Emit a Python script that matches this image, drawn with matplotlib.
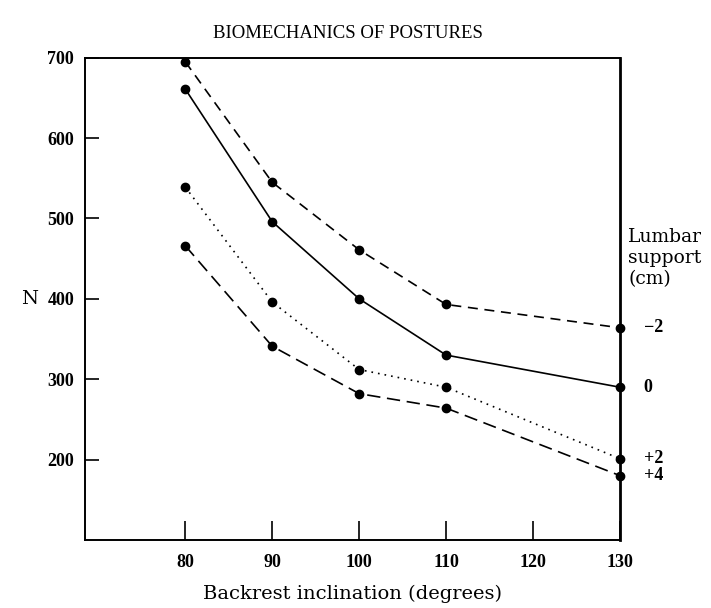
import matplotlib
matplotlib.use("Agg")
import matplotlib.pyplot as plt

# Data
inclination = [80, 90, 100, 110, 130]
support_labels = ["\u22122", "0", "+2", "+4"]
force_m2 = [695, 545, 461, 393, 364]
force_0 = [661, 496, 400, 330, 290]
force_p2 = [539, 396, 312, 290, 201]
force_p4 = [466, 341, 282, 264, 180]
x_ticks = [80, 90, 100, 110, 120, 130]
y_ticks = [200, 300, 400, 500, 600, 700]

plt.rcParams['font.family'] = ['Liberation Serif', 'DejaVu Serif']

fig = plt.figure(figsize=(7.11, 6.08), dpi=100)
ax = fig.add_axes([0.12, 0.112, 0.752, 0.793])

series = [force_m2, force_0, force_p2, force_p4]
styles = [(0, (6, 4)), '-', (0, (1, 3)), (0, (8, 4))]
for vals, ls, lab in zip(series, styles, support_labels):
    ax.plot(inclination, vals, color='black', linestyle=ls, linewidth=1.2,
            marker='o', markersize=6, markerfacecolor='black', clip_on=False)
    ax.annotate(lab, (inclination[-1], vals[-1]), xytext=(17, 0),
                textcoords='offset points', va='center', ha='left',
                fontsize=13, fontweight='bold')

ax.set_xlim(68.5, 130)
ax.set_ylim(100, 700)
ax.set_xticks(x_ticks)
ax.set_yticks(y_ticks)
ax.tick_params(axis='x', direction='in', length=14, width=1.2, labelsize=13, pad=10)
ax.tick_params(axis='y', direction='in', length=10, width=1.2, labelsize=13, pad=8)
for lbl in ax.get_xticklabels() + ax.get_yticklabels():
    lbl.set_fontweight('bold')
for s in ax.spines.values():
    s.set_linewidth(1.4)
ax.spines['right'].set_linewidth(2.0)

ax.set_xlabel("Backrest inclination (degrees)", fontsize=14, labelpad=10,
              family=['DejaVu Serif'])
ax.set_ylabel("N", fontsize=14, rotation=0, va='center', family=['DejaVu Serif'])
ax.yaxis.set_label_coords(-0.105, 0.5)
fig.text(0.49, 0.945, "BIOMECHANICS OF POSTURES", ha='center', va='center',
         fontsize=13.5)
ax.text(1.015, 0.585, "Lumbar\nsupport\n(cm)", transform=ax.transAxes,
        ha='left', va='center', fontsize=13.5, linespacing=1.2,
        family=['DejaVu Serif'])

fig.savefig("out.png", dpi=100)
